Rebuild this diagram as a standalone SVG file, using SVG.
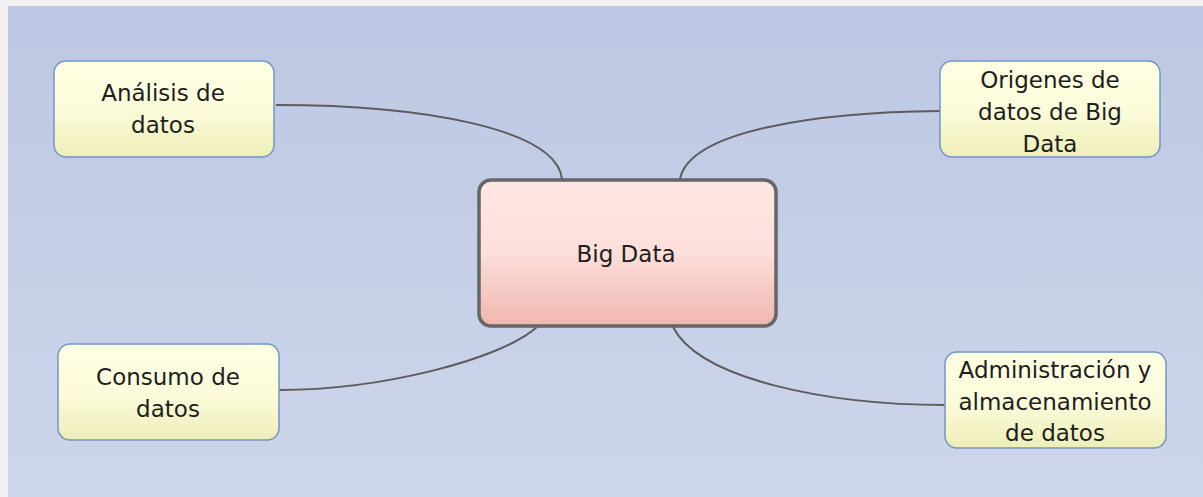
<svg xmlns="http://www.w3.org/2000/svg" width="1203" height="497" viewBox="0 0 1203 497">
  <defs>
    <linearGradient id="bg" x1="0" y1="0" x2="0" y2="1">
      <stop offset="0" stop-color="#bcc7e3"/>
      <stop offset="1" stop-color="#cdd6ea"/>
    </linearGradient>
    <linearGradient id="leaf" x1="0" y1="0" x2="0" y2="1">
      <stop offset="0" stop-color="#fefee2"/>
      <stop offset="0.5" stop-color="#fcfcdc"/>
      <stop offset="1" stop-color="#eeeeb9"/>
    </linearGradient>
    <linearGradient id="root" x1="0" y1="0" x2="0" y2="1">
      <stop offset="0" stop-color="#ffe5e3"/>
      <stop offset="0.48" stop-color="#fde0dc"/>
      <stop offset="1" stop-color="#f0b6ae"/>
    </linearGradient>
    <style>
      .leaf rect { fill: url(#leaf); stroke: #7397c2; stroke-width: 1.5; }
      .root rect { fill: url(#root); stroke: #666666; stroke-width: 3.5; }
      text { font-family: "DejaVu Sans", Verdana, sans-serif; font-size: 23px; fill: #1e1e1e; text-anchor: middle; }
      .links path { fill: none; stroke: #5c5c5c; stroke-width: 2; }
    </style>
  </defs>

  <!-- page frame and canvas -->
  <rect x="0" y="0" width="1203" height="497" fill="#f1f1f1"/>
  <rect x="8" y="6" width="1195" height="491" fill="url(#bg)"/>

  <!-- connectors -->
  <g class="links" id="connectors">
    <path d="M276,105 C420,105 556,128 562,179"/>
    <path d="M680,179 C690,130 820,112 940,111"/>
    <path d="M537,327 C500,360 380,390 279,390"/>
    <path d="M673,327 C700,380 830,405 945,405"/>
  </g>

  <!-- central topic -->
  <g id="node-big-data" class="root">
    <rect x="479" y="180" width="297" height="146" rx="12" ry="12"/>
    <text x="626" y="262">Big Data</text>
  </g>

  <g id="node-analisis" class="leaf">
    <rect x="54" y="61" width="220" height="96" rx="12" ry="12"/>
    <text x="163" y="101">Análisis de</text>
    <text x="163" y="133">datos</text>
  </g>

  <g id="node-origenes" class="leaf">
    <rect x="940" y="61" width="220" height="96" rx="12" ry="12"/>
    <text x="1050" y="88">Origenes de</text>
    <text x="1050" y="120">datos de Big</text>
    <text x="1050" y="152">Data</text>
  </g>

  <g id="node-consumo" class="leaf">
    <rect x="58" y="344" width="221" height="96" rx="12" ry="12"/>
    <text x="168" y="385">Consumo de</text>
    <text x="168" y="417">datos</text>
  </g>

  <g id="node-administracion" class="leaf">
    <rect x="945" y="352" width="221" height="96" rx="12" ry="12"/>
    <text x="1055" y="378">Administración y</text>
    <text x="1055" y="410">almacenamiento</text>
    <text x="1055" y="441">de datos</text>
  </g>
</svg>
